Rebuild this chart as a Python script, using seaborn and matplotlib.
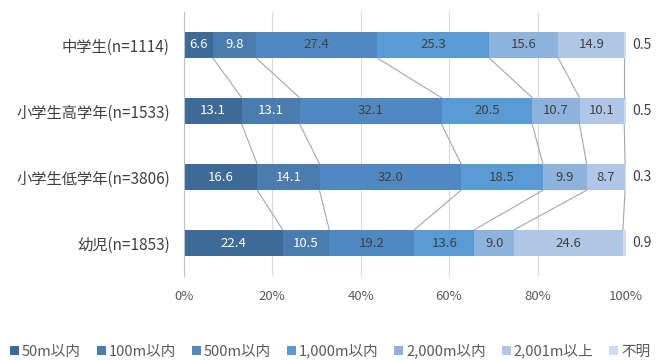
import numpy as np
import pandas as pd
import matplotlib
matplotlib.use("Agg")
import matplotlib.pyplot as plt
import seaborn as sns
from matplotlib.patches import Patch

sns.set_theme(style="white")
plt.rcParams['font.family'] = ['Noto Sans CJK JP', 'DejaVu Sans']

categories = ["中学生(n=1114)", "小学生高学年(n=1533)", "小学生低学年(n=3806)", "幼児(n=1853)"]
series = ["50m以内", "100m以内", "500m以内", "1,000m以内", "2,000m以内", "2,001m以上", "不明"]
v_50 = [6.6, 13.1, 16.6, 22.4]
v_100 = [9.8, 13.1, 14.1, 10.5]
v_500 = [27.4, 32.1, 32.0, 19.2]
v_1000 = [25.3, 20.5, 18.5, 13.6]
v_2000 = [15.6, 10.7, 9.9, 9.0]
v_2001 = [14.9, 10.1, 8.7, 24.6]
v_unknown = [0.5, 0.5, 0.3, 0.9]
xticks = [0, 20, 40, 60, 80, 100]
xtick_labels = ["0%", "20%", "40%", "60%", "80%", "100%"]

colors = ["#3E6A98", "#4A7CB0", "#5089C2", "#5A9BD5", "#8EB2DE", "#AFC6E6", "#CFDCF0"]
label_colors = ["white", "white", "#404040", "#404040", "#404040", "#404040", "#404040"]

vals = np.array([v_50, v_100, v_500, v_1000, v_2000, v_2001, v_unknown]).T  # rows x series
cum = np.cumsum(vals, axis=1)
cum_clip = np.minimum(cum, 100)
starts = cum - vals

fig = plt.figure(figsize=(6.61, 3.6), dpi=100)
ax = fig.add_axes([0.278, 0.233, 0.669, 0.734])

bar_h = 0.4
for k in range(len(series) - 1, -1, -1):
    df = pd.DataFrame({"cat": categories, "val": cum_clip[:, k]})
    sns.barplot(data=df, x="val", y="cat", orient="h", color=colors[k], saturation=1,
                width=bar_h, linewidth=0, ax=ax, order=categories)

# connector lines
for k in range(len(series) - 1):
    for i in range(len(categories) - 1):
        ax.plot([cum_clip[i, k], cum_clip[i + 1, k]], [i + bar_h / 2, i + 1 - bar_h / 2],
                color="#A6A6A6", lw=0.8, zorder=1)

# value labels
for i in range(len(categories)):
    for k in range(len(series) - 1):
        cx = starts[i, k] + vals[i, k] / 2
        ax.text(cx, i, f"{vals[i, k]:.1f}", ha="center", va="center", fontsize=9.5,
                color=label_colors[k], zorder=5)
    ax.text(101.5, i, f"{vals[i, -1]:.1f}", ha="left", va="center", fontsize=10,
            color="#404040", zorder=5)

ax.set_xlim(0, 100)
ax.set_ylim(len(categories) - 0.5, -0.5)
ax.set_xticks(xticks)
ax.set_xticklabels(xtick_labels)
ax.set_xlabel("")
ax.set_ylabel("")
ax.grid(axis="x", color="#D9D9D9", lw=0.8, zorder=0)
ax.set_axisbelow(True)
for s in ["top", "right", "bottom"]:
    ax.spines[s].set_visible(False)
ax.spines["left"].set_color("#BFBFBF")
ax.spines["left"].set_linewidth(0.8)
ax.tick_params(axis="x", length=0, pad=10, labelsize=9.5, labelcolor="#595959")
ax.tick_params(axis="y", length=0, pad=10, labelsize=11, labelcolor="#404040")

handles = [Patch(facecolor=c, edgecolor="none") for c in colors]
fig.legend(handles, series, loc="lower left", bbox_to_anchor=(0.0, -0.025), ncol=7,
           frameon=False, fontsize=10.5, handlelength=0.6, handleheight=0.6,
           handletextpad=0.2, columnspacing=1.1, labelcolor="#595959",
           borderaxespad=0.3)

fig.savefig("out.png", dpi=100)
